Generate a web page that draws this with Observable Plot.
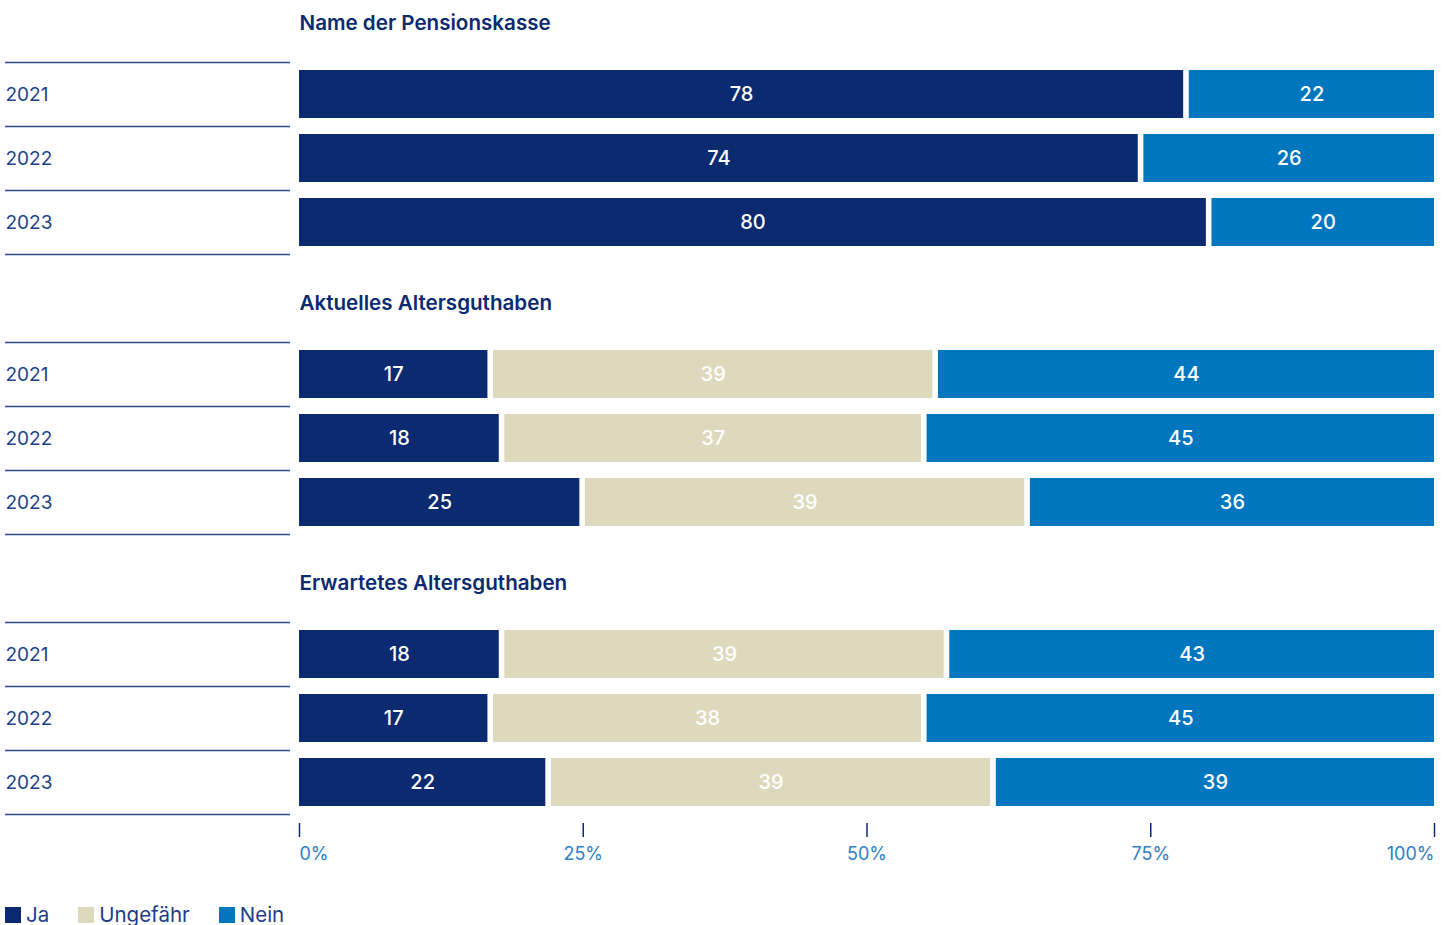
<!DOCTYPE html>
<html>
<head>
<meta charset="utf-8">
<script src="https://cdn.jsdelivr.net/npm/d3@7"></script>
<script src="https://cdn.jsdelivr.net/npm/@observablehq/plot@0.6"></script>
<style>
  html, body { margin: 0; padding: 0; background: #fff; }
  body { width: 1449px; height: 925px; overflow: hidden; position: relative; font-family: Inter, "Noto Sans", sans-serif; }
  #legend { position: absolute; left: 5px; top: 904px; display: flex; align-items: center; font-size: 20.5px; color: #1f3d87; line-height: 22px; }
  #legend .item { display: flex; align-items: center; margin-right: 29px; }
  #legend .sw { width: 16px; height: 16px; margin-right: 5px; display: inline-block; }
</style>
</head>
<body>
<div id="chart"></div>
<div id="legend"></div>
<script>
// ---- data (percent shares; labels are rounded) ----
const panels = ["Name der Pensionskasse", "Aktuelles Altersguthaben", "Erwartetes Altersguthaben"];
const years = ["2021", "2022", "2023"];
const answers = ["Ja", "Ungefähr", "Nein"];
const jaValues = [[77.9, 73.9, 79.9], [16.6, 17.6, 24.7], [17.6, 16.6, 21.7]];
const ungefaehrValues = [[null, null, null], [39.2, 37.2, 39.2], [39.2, 38.2, 39.2]];
const neinValues = [[22.1, 26.1, 20.1], [44.2, 45.2, 36.1], [43.2, 45.2, 39.1]];
const xTicks = [0, 25, 50, 75, 100];
const colors = ["#0b2a6f", "#ded9bc", "#0076bf"];

// ---- layout ----
const W = 1449, H = 900;
const mL = 299, mR = 15, mT = 62, mB = 86;
const gap = 5.6;
const navy = "#0b2a6f", lineColor = "#2c4a8c", tickTextColor = "#2f80c3";

// build stacked rows
const rows = [];
panels.forEach((p, pi) => {
  years.forEach((y, yi) => {
    let acc = 0;
    let first = true;
    [jaValues, ungefaehrValues, neinValues].forEach((arr, ai) => {
      const v = arr[pi][yi];
      if (v == null) return;
      rows.push({panel: p, year: y, answer: answers[ai], value: v, x1: acc, x2: acc + v, first});
      acc += v;
      first = false;
    });
  });
});
const yearRows = [];
panels.forEach(p => years.forEach(y => yearRows.push({panel: p, year: y})));

// pixel -> x data units for the left label area lines
const pxToX = px => (px - mL) / (W - mL - mR) * 100;

const plot = Plot.plot({
  width: W,
  height: H,
  marginLeft: mL,
  marginRight: mR,
  marginTop: mT,
  marginBottom: mB,
  style: {fontFamily: "Inter, 'Noto Sans', sans-serif", background: "transparent"},
  x: {domain: [0, 100], axis: null},
  y: {domain: years, paddingInner: 0.25, paddingOuter: 0.125, axis: null},
  fy: {domain: panels, paddingInner: 88 / 280, paddingOuter: 0, axis: null, label: null},
  color: {domain: answers, range: colors},
  marks: [
    // row separator lines in the label area
    Plot.ruleY(yearRows, {y: "year", fy: "panel", dy: -32, x1: pxToX(5), x2: pxToX(290), stroke: lineColor, strokeWidth: 1.3}),
    Plot.ruleY(yearRows.filter(d => d.year === years[years.length - 1]), {y: "year", fy: "panel", dy: 32, x1: pxToX(5), x2: pxToX(290), stroke: lineColor, strokeWidth: 1.3}),
    // year labels
    Plot.text(yearRows, {y: "year", fy: "panel", text: "year", frameAnchor: "left", dx: -(mL - 5), textAnchor: "start", fill: "#22428a", fontSize: 19}),
    // bars
    Plot.barX(rows.filter(d => d.first), {x1: "x1", x2: "x2", y: "year", fy: "panel", fill: "answer"}),
    Plot.barX(rows.filter(d => !d.first), {x1: "x1", x2: "x2", y: "year", fy: "panel", fill: "answer", insetLeft: gap}),
    // value labels
    Plot.text(rows.filter(d => d.first), {x: d => (d.x1 + d.x2) / 2, y: "year", fy: "panel", text: d => String(Math.round(d.value)), fill: "white", fontSize: 20, fontWeight: 500}),
    Plot.text(rows.filter(d => !d.first), {x: d => (d.x1 + d.x2) / 2, y: "year", fy: "panel", text: d => String(Math.round(d.value)), fill: "white", fontSize: 20, fontWeight: 500, dx: gap / 2}),
    // panel titles
    Plot.text(panels, {fy: d => d, text: d => d, frameAnchor: "top-left", lineAnchor: "middle", dy: -39, fill: navy, fontSize: 20.6, fontWeight: 600}),
    // x axis ticks
    Plot.axisX(xTicks, {anchor: "bottom", tickSize: 14, dy: 9, tickFormat: () => "", stroke: navy, strokeWidth: 1.5}),
    // x axis labels
    Plot.text(xTicks.slice(0, 1), {x: d => d, text: d => d + "%", frameAnchor: "bottom", dy: 45, textAnchor: "start", fill: tickTextColor, fontSize: 18, facetAnchor: "bottom"}),
    Plot.text(xTicks.slice(1, -1), {x: d => d, text: d => d + "%", frameAnchor: "bottom", dy: 45, textAnchor: "middle", fill: tickTextColor, fontSize: 18, facetAnchor: "bottom"}),
    Plot.text(xTicks.slice(-1), {x: d => d, text: d => d + "%", frameAnchor: "bottom", dy: 45, textAnchor: "end", fill: tickTextColor, fontSize: 18, facetAnchor: "bottom"})
  ]
});
document.getElementById("chart").appendChild(plot);

// legend
const legend = d3.select("#legend");
answers.forEach((a, i) => {
  const item = legend.append("div").attr("class", "item");
  item.append("span").attr("class", "sw").style("background", colors[i]);
  item.append("span").text(a);
});
</script>
</body>
</html>
